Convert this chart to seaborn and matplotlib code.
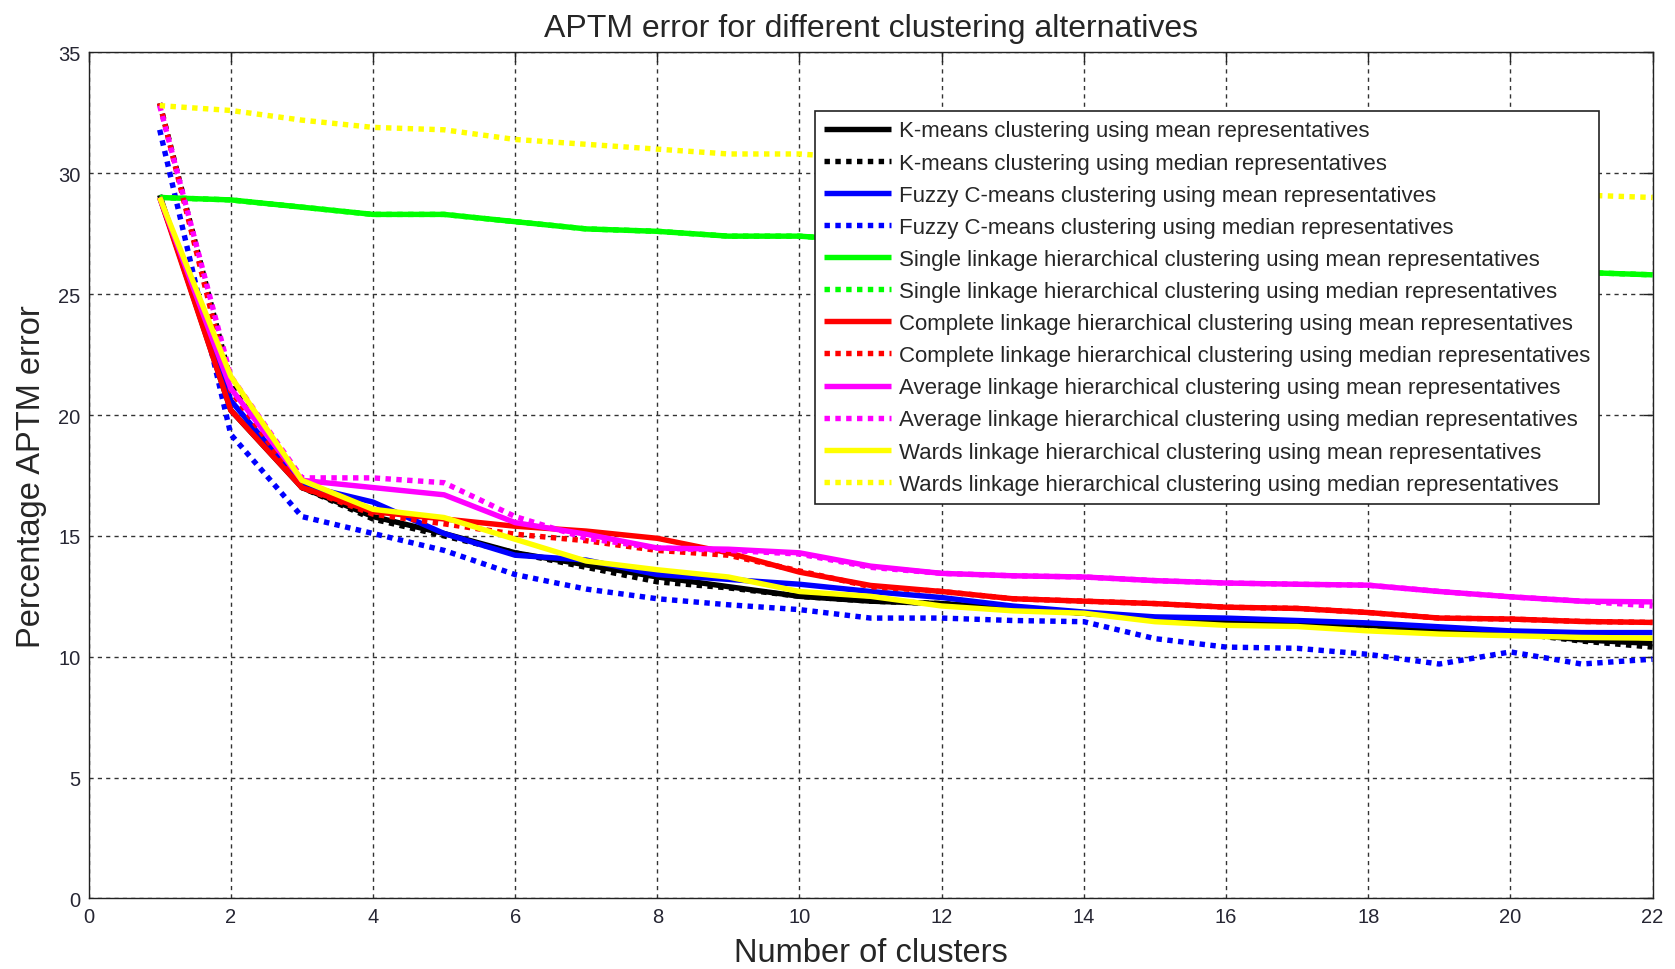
import numpy as np
import pandas as pd
import matplotlib
matplotlib.use("Agg")
import matplotlib.pyplot as plt
import seaborn as sns

clusters = list(range(1, 23))

kmeans_mean = [29.1, 20.2, 17.0, 15.8, 15.1, 14.3, 13.8, 13.3, 12.9, 12.5, 12.3, 12.2, 12.0, 11.8, 11.6, 11.5, 11.4, 11.3, 11.1, 11.0, 10.7, 10.55]
kmeans_median = [32.9, 21.4, 17.0, 15.7, 15.0, 14.3, 13.7, 13.1, 12.85, 12.5, 12.3, 12.2, 12.0, 11.8, 11.6, 11.5, 11.4, 11.3, 11.1, 11.0, 10.65, 10.4]
fuzzy_mean = [29.0, 20.6, 17.1, 16.4, 15.1, 14.2, 14.0, 13.4, 13.2, 13.0, 12.7, 12.45, 12.1, 11.85, 11.65, 11.6, 11.5, 11.4, 11.24, 11.07, 11.0, 11.0]
fuzzy_median = [31.8, 19.2, 15.8, 15.1, 14.4, 13.4, 12.8, 12.4, 12.15, 11.95, 11.6, 11.6, 11.5, 11.45, 10.75, 10.4, 10.35, 10.1, 9.7, 10.2, 9.7, 9.9]
single_mean = [29.0, 28.9, 28.6, 28.3, 28.3, 28.0, 27.7, 27.6, 27.4, 27.4, 27.2, 27.0, 26.8, 26.7, 26.5, 26.4, 26.3, 26.2, 26.1, 26.0, 25.9, 25.8]
single_median = [29.0, 28.9, 28.6, 28.3, 28.3, 28.0, 27.7, 27.6, 27.4, 27.4, 27.2, 27.0, 26.8, 26.7, 26.5, 26.4, 26.3, 26.2, 26.1, 26.0, 25.9, 25.8]
complete_mean = [29.0, 20.2, 17.0, 16.0, 15.7, 15.4, 15.2, 14.9, 14.3, 13.5, 12.95, 12.7, 12.4, 12.3, 12.2, 12.05, 12.0, 11.83, 11.6, 11.56, 11.46, 11.42]
complete_median = [32.9, 21.0, 17.0, 15.9, 15.5, 15.07, 14.8, 14.4, 14.2, 13.55, 12.9, 12.7, 12.4, 12.3, 12.2, 12.05, 12.0, 11.83, 11.6, 11.56, 11.46, 11.42]
average_mean = [29.0, 21.1, 17.3, 17.0, 16.7, 15.55, 15.07, 14.5, 14.45, 14.3, 13.75, 13.45, 13.35, 13.3, 13.15, 13.05, 13.0, 12.96, 12.7, 12.48, 12.3, 12.27]
average_median = [32.8, 21.6, 17.4, 17.4, 17.2, 15.8, 14.9, 14.5, 14.4, 14.25, 13.7, 13.45, 13.35, 13.3, 13.15, 13.05, 13.0, 12.96, 12.7, 12.48, 12.3, 12.1]
wards_mean = [29.0, 21.6, 17.3, 16.1, 15.76, 14.86, 13.96, 13.6, 13.3, 12.7, 12.5, 12.1, 11.9, 11.8, 11.45, 11.3, 11.25, 11.07, 10.94, 10.87, 10.8, 10.77]
wards_median = [32.8, 32.6, 32.2, 31.9, 31.8, 31.4, 31.2, 31.0, 30.8, 30.8, 30.6, 30.5, 30.3, 30.2, 30.0, 29.9, 29.7, 29.6, 29.4, 29.3, 29.1, 29.0]

labels = [
    "K-means clustering using mean representatives",
    "K-means clustering using median representatives",
    "Fuzzy C-means clustering using mean representatives",
    "Fuzzy C-means clustering using median representatives",
    "Single linkage hierarchical clustering using mean representatives",
    "Single linkage hierarchical clustering using median representatives",
    "Complete linkage hierarchical clustering using mean representatives",
    "Complete linkage hierarchical clustering using median representatives",
    "Average linkage hierarchical clustering using mean representatives",
    "Average linkage hierarchical clustering using median representatives",
    "Wards linkage hierarchical clustering using mean representatives",
    "Wards linkage hierarchical clustering using median representatives",
]
series = [kmeans_mean, kmeans_median, fuzzy_mean, fuzzy_median, single_mean, single_median,
          complete_mean, complete_median, average_mean, average_median, wards_mean, wards_median]
colors = ["#000000", "#000000", "#0000ff", "#0000ff", "#00ff00", "#00ff00",
          "#ff0000", "#ff0000", "#ff00ff", "#ff00ff", "#ffff00", "#ffff00"]

sns.set_style("white")
plt.rcParams['font.family'] = ['Liberation Sans', 'DejaVu Sans']

fig = plt.figure(figsize=(16.75, 9.7), dpi=100)
ax = fig.add_axes([0.0529, 0.0727, 0.9337, 0.8722])

for i, (lab, vals, col) in enumerate(zip(labels, series, colors)):
    df = pd.DataFrame({"clusters": clusters, "error": vals})
    ls = "-" if i % 2 == 0 else (0, (1, 1))
    sns.lineplot(data=df, x="clusters", y="error", ax=ax, color=col, linewidth=3.9,
                 linestyle=ls, label=lab, dash_capstyle="butt", solid_capstyle="butt")

ax.set_xlim(0, 22)
ax.set_ylim(0, 35)
ax.set_xticks(range(0, 23, 2))
ax.set_yticks(range(0, 36, 5))
ax.grid(True, color="#333333", linestyle=(0, (3, 3)), linewidth=1.0)
for s in ax.spines.values():
    s.set_visible(True)
    s.set_color("#222222")
    s.set_linewidth(1.0)
ax.tick_params(direction="in", top=True, right=True, length=7, width=1, labelsize=14.5,
               colors="#222222", labelcolor="#262633", pad=6)
ax.set_xlabel("Number of clusters", fontsize=23.5, labelpad=8)
ax.set_ylabel("Percentage APTM error", fontsize=23.5, labelpad=8)
ax.set_title("APTM error for different clustering alternatives", fontsize=23, pad=12)

leg = ax.legend(loc="upper left", bbox_to_anchor=(0.4645, 0.9306), fontsize=16, frameon=True,
                fancybox=False, edgecolor="#222222", framealpha=1, handlelength=3.0,
                borderaxespad=0, labelspacing=0.5, borderpad=0.42, handletextpad=0.34)
leg.get_frame().set_linewidth(1.2)

fig.savefig("out.png", dpi=100, facecolor="white")
